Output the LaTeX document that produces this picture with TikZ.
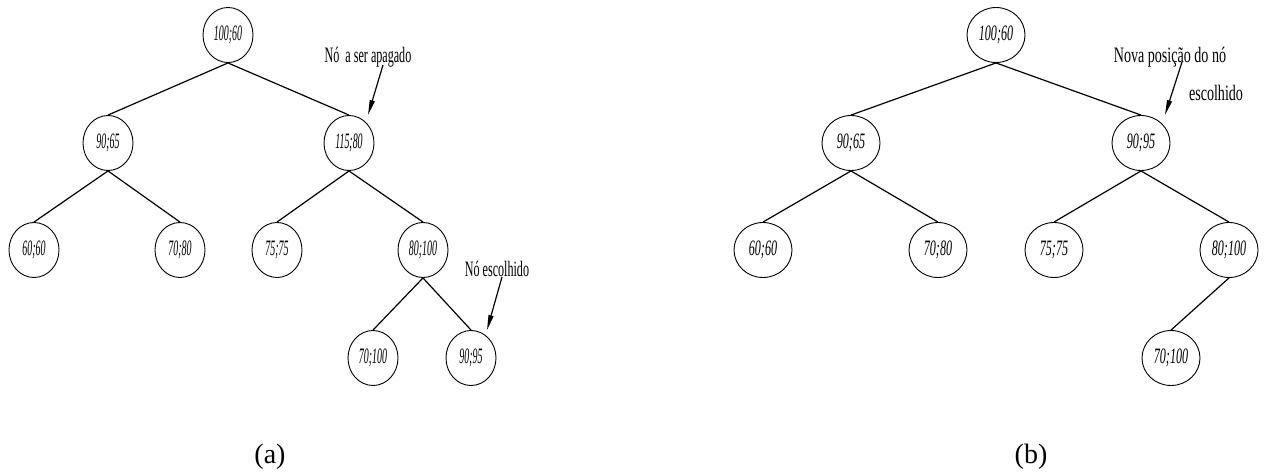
\documentclass[tikz,border=0pt]{standalone}
\usepackage{fontspec}
\setmainfont{Liberation Serif}
\newfontfamily\lcond[FakeStretch=0.45]{Liberation Serif}
\newfontfamily\rcond[FakeStretch=0.55]{Liberation Serif}
\newfontfamily\llab[FakeStretch=0.55]{Liberation Serif}
\newfontfamily\rlab[FakeStretch=0.64]{Liberation Serif}
\usetikzlibrary{shapes.geometric,arrows.meta}
\tikzset{
  lnode/.style={draw, ellipse, line width=0.9pt, minimum width=50pt, minimum height=55pt, inner sep=0pt,
    font={\lcond\itshape\fontsize{22}{24}\selectfont}},
  rnode/.style={draw, ellipse, line width=0.9pt, minimum width=58pt, minimum height=55pt, inner sep=0pt,
    font={\rcond\itshape\fontsize{22}{24}\selectfont}},
  edge/.style={line width=1.2pt},
  pointer/.style={line width=1.2pt, -{Triangle[length=15pt,width=5pt]}},
  llabel/.style={inner sep=0pt, font={\llab\fontsize{22}{24}\selectfont}},
  rlabel/.style={inner sep=0pt, font={\rlab\fontsize{22}{24}\selectfont}},
  caption/.style={inner sep=0pt, font={\fontsize{28}{30}\selectfont}}
}
\begin{document}
\begin{tikzpicture}[x=1pt,y=-1pt]
\useasboundingbox (0,0) rectangle (1264,472);
% left tree
\node[lnode] (a1) at (228,35) {100;60};
\node[lnode] (a2) at (108,143) {90;65};
\node[lnode] (a3) at (349,143) {115;80};
\node[lnode] (a4) at (34,250) {60;60};
\node[lnode] (a5) at (180,250) {70;80};
\node[lnode] (a6) at (277,250) {75;75};
\node[lnode] (a7) at (423,250) {80;100};
\node[lnode] (a8) at (373,358) {70;100};
\node[lnode] (a9) at (471,358) {90;95};
\foreach \p/\c in {a1/a2,a1/a3,a2/a4,a2/a5,a3/a6,a3/a7,a7/a8,a7/a9}
  \draw[edge] (\p.south) -- (\c.north);
\node[llabel] (la) at (368,57) {Nó\ \ a ser apagado};
\coordinate (la0) at (383,65);
\coordinate (la1) at (368,115);
\draw[pointer] (la0) -- (la1);
\node[llabel] (lb) at (497,269) {Nó escolhido};
\coordinate (lb0) at (502,277);
\coordinate (lb1) at (487,330);
\draw[pointer] (lb0) -- (lb1);
\node[caption] (capa) at (270,457) {(a)};
% right tree
\node[rnode] (b1) at (996,35) {100;60};
\node[rnode] (b2) at (851,143) {90;65};
\node[rnode] (b3) at (1141,143) {90;95};
\node[rnode] (b4) at (763,250) {60;60};
\node[rnode] (b5) at (938,250) {70;80};
\node[rnode] (b6) at (1054,250) {75;75};
\node[rnode] (b7) at (1229,250) {80;100};
\node[rnode] (b8) at (1171,358) {70;100};
\foreach \p/\c in {b1/b2,b1/b3,b2/b4,b2/b5,b3/b6,b3/b7,b7/b8}
  \draw[edge] (\p.south) -- (\c.north);
\node[rlabel] (ra) at (1170,57) {Nova posição do nó};
\node[rlabel] (rb) at (1216,93) {escolhido};
\coordinate (ra0) at (1182,62);
\coordinate (ra1) at (1165,115);
\draw[pointer] (ra0) -- (ra1);
\node[caption] (capb) at (1031,457) {(b)};
\end{tikzpicture}
\end{document}
